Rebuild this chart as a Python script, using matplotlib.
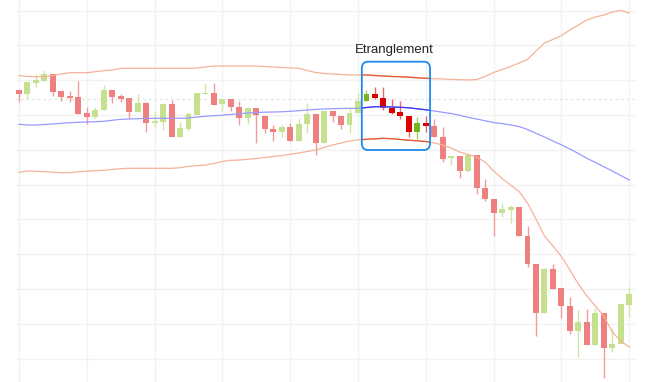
import matplotlib.pyplot as plt
from matplotlib.patches import FancyBboxPatch
import numpy as np

# OHLC (arbitrary price units)
opens = [31.00, 30.63, 31.73, 31.93, 32.57, 30.87, 30.37, 30.30, 28.67, 28.33,
         28.97, 31.00, 30.40, 30.20, 28.83, 29.70, 27.73, 27.83, 29.57, 26.33,
         27.10, 28.53, 30.57, 30.73, 29.57, 30.07, 29.27, 28.23, 29.17, 28.43,
         27.10, 26.83, 27.33, 25.93, 27.60, 28.63, 25.67, 28.90, 28.43, 27.50,
         28.73, 29.90, 30.57, 30.17, 29.17, 28.83, 28.40, 26.83, 27.67, 27.45,
         26.27, 24.17, 24.43, 22.90, 24.50, 21.17, 20.07, 18.73, 19.00, 19.27,
         16.40, 13.60, 8.67, 13.10, 11.17, 9.40, 6.90, 7.80, 5.50, 8.67,
         5.17, 5.57, 9.50]
highs = [31.00, 31.77, 32.60, 33.00, 32.57, 30.87, 30.87, 31.90, 29.27, 29.27,
         31.50, 31.00, 30.60, 30.20, 30.60, 29.83, 28.93, 29.73, 30.00, 27.83,
         28.80, 30.67, 31.73, 31.73, 30.07, 30.07, 29.90, 29.33, 29.17, 28.43,
         27.50, 27.50, 27.73, 28.17, 29.73, 28.63, 28.90, 28.90, 28.43, 29.17,
         30.67, 31.00, 31.27, 31.27, 30.07, 29.90, 28.40, 28.27, 28.40, 28.07,
         27.30, 24.43, 24.43, 24.50, 24.50, 22.07, 20.07, 19.67, 19.50, 19.27,
         17.40, 13.60, 13.17, 13.60, 11.17, 10.27, 9.00, 9.10, 9.17, 8.67,
         7.17, 9.57, 11.33]
lows = [29.83, 30.07, 31.33, 31.93, 30.43, 29.93, 29.83, 28.63, 27.60, 28.17,
        28.97, 29.67, 29.77, 28.17, 28.83, 26.77, 27.33, 27.00, 26.33, 26.33,
        26.90, 28.53, 30.57, 29.50, 28.90, 28.93, 27.50, 27.60, 25.67, 26.73,
        25.93, 26.27, 25.93, 25.93, 26.73, 24.50, 25.67, 27.83, 27.10, 26.73,
        28.73, 29.90, 30.07, 29.00, 28.60, 28.07, 26.33, 26.07, 26.83, 26.27,
        23.80, 23.55, 22.25, 22.83, 20.60, 19.93, 16.40, 18.27, 17.67, 16.40,
        13.30, 6.40, 8.67, 11.10, 8.23, 6.57, 4.33, 5.50, 5.50, 2.17,
        4.83, 5.57, 8.33]
closes = [30.60, 31.77, 31.97, 32.57, 30.83, 30.33, 30.23, 28.63, 28.33, 29.00,
          31.00, 30.30, 30.13, 28.83, 29.70, 27.73, 27.90, 29.57, 26.33, 27.17,
          28.57, 30.67, 30.73, 29.50, 30.07, 29.27, 28.23, 29.17, 28.50, 27.07,
          26.83, 27.33, 25.93, 27.60, 28.63, 25.67, 28.90, 28.43, 27.50, 28.73,
          29.90, 30.57, 30.17, 29.17, 28.73, 28.40, 26.83, 27.67, 27.43, 26.27,
          24.15, 24.43, 22.90, 24.50, 21.17, 20.07, 18.73, 19.07, 19.27, 16.40,
          13.57, 8.67, 13.10, 11.10, 9.40, 6.90, 7.80, 5.50, 8.67, 5.17,
          5.57, 9.57, 10.60]

# Bollinger bands
upper_band = [32.45, 32.35, 32.33, 32.33, 32.45, 32.60, 32.73, 32.73, 32.73, 32.83,
              32.93, 33.00, 33.17, 33.17, 33.17, 33.17, 33.17, 33.17, 33.17, 33.17,
              33.17, 33.20, 33.30, 33.40, 33.40, 33.40, 33.40, 33.40, 33.40, 33.35,
              33.30, 33.25, 33.20, 33.17, 32.95, 32.75, 32.65, 32.60, 32.55, 32.50,
              32.50, 32.50, 32.45, 32.40, 32.35, 32.33, 32.28, 32.22, 32.17, 32.13,
              32.10, 32.06, 32.03, 32.00, 32.05, 32.35, 32.75, 33.05, 33.35, 33.70,
              34.05, 34.90, 35.70, 36.05, 36.45, 37.00, 37.50, 38.00, 38.30, 38.50,
              38.80, 38.95, 38.70]
middle_band = [27.57, 27.50, 27.50, 27.55, 27.60, 27.67, 27.73, 27.77, 27.80, 27.83,
               27.87, 27.97, 28.07, 28.10, 28.13, 28.17, 28.17, 28.17, 28.17, 28.17,
               28.20, 28.30, 28.37, 28.43, 28.48, 28.55, 28.63, 28.70, 28.75, 28.78,
               28.80, 28.82, 28.87, 28.93, 29.00, 29.06, 29.10, 29.13, 29.15, 29.17,
               29.17, 29.25, 29.33, 29.33, 29.30, 29.27, 29.22, 29.12, 29.02, 28.90,
               28.77, 28.65, 28.47, 28.27, 28.10, 27.92, 27.75, 27.64, 27.50, 27.35,
               27.05, 26.67, 26.30, 25.90, 25.52, 25.10, 24.65, 24.17, 23.75, 23.33,
               22.90, 22.45, 22.00]
lower_band = [22.77, 22.90, 22.87, 22.83, 22.78, 22.73, 22.73, 22.83, 22.87, 22.93,
              22.97, 23.05, 23.13, 23.17, 23.17, 23.17, 23.17, 23.17, 23.17, 23.23,
              23.37, 23.43, 23.50, 23.65, 23.85, 23.97, 24.00, 24.07, 24.15, 24.25,
              24.35, 24.45, 24.57, 24.70, 24.85, 25.00, 25.25, 25.50, 25.70, 25.90,
              26.02, 26.07, 26.12, 26.17, 26.13, 26.05, 25.98, 25.92, 25.85, 25.70,
              25.50, 25.20, 24.80, 24.55, 24.30, 23.80, 22.90, 22.15, 21.50, 20.85,
              19.70, 18.10, 16.40, 15.40, 14.35, 13.00, 11.60, 10.40, 9.40, 8.40,
              6.80, 5.90, 5.30]

# squeeze ("Etranglement") candles
squeeze_first, squeeze_last = 41, 48
label = 'Etranglement'
ref_level = 30.1

x = np.arange(len(opens))
o = np.array(opens)
c = np.array(closes)
up = c >= o
inside = (x >= squeeze_first) & (x <= squeeze_last)

body_col = np.where(up, np.where(inside, '#78B21E', '#C5E08E'),
                    np.where(inside, '#DD0000', '#EE8080'))
wick_col = np.where(up, np.where(inside, '#A6CC66', '#CFE6A4'),
                    np.where(inside, '#EA6A6A', '#F19C9C'))

fig = plt.figure(figsize=(6.51, 3.82), dpi=100)
ax = fig.add_axes([15 / 651, 0, 621 / 651, 1])
ax.set_xlim(-0.47, 72.8)
ax.set_ylim(1.8, 40.0)

# grid
ax.set_xticks(np.arange(0, 73, 8))
ax.set_yticks(np.arange(4.15, 39.5, 3.48))
ax.grid(True, color='#F2F2F2', lw=1)
ax.tick_params(length=0, labelbottom=False, labelleft=False)
for s in ax.spines.values():
    s.set_visible(False)
ax.set_axisbelow(True)
ax.axhline(ref_level, color='#E6E6E6', lw=1, ls=(0, (2, 2)), zorder=1)

# candles
ax.vlines(x, lows, highs, colors=wick_col, lw=1, zorder=2)
heights = np.maximum(np.abs(c - o), 0.12)
ax.bar(x, heights, bottom=np.minimum(o, c), width=0.7, color=body_col,
       linewidth=0, zorder=3)

# squeeze box
box = FancyBboxPatch((40.45, 25.0), 8.05, 8.83,
                     boxstyle='round,pad=0,rounding_size=0.7',
                     fill=False, edgecolor='#1E8AEB', lw=1.3, zorder=6)
ax.add_patch(box)

# bands: light everywhere, darker inside the box
for band, light, dark in [(upper_band, '#F5B29A', '#E4572E'),
                          (lower_band, '#F5B29A', '#E4572E'),
                          (middle_band, '#9A9AFF', '#3535F2')]:
    ax.plot(x, band, color=light, lw=0.9, zorder=4)
    ln, = ax.plot(x, band, color=dark, lw=0.9, zorder=5)
    ln.set_clip_path(box)

ax.text(44.25, 35.0, label, ha='center', va='center', fontsize=9.5,
        family='Liberation Sans', color='#222222')

plt.savefig('out.png', dpi=100)
